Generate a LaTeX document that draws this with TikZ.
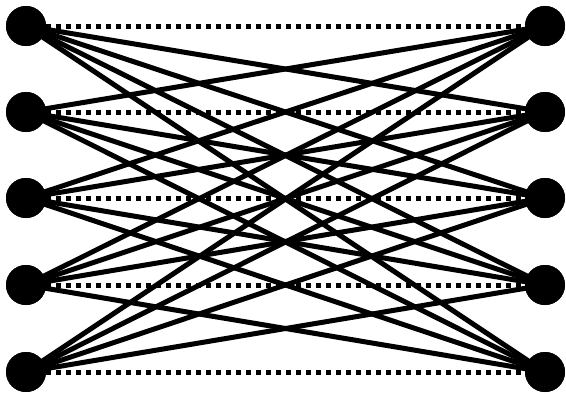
\documentclass[tikz,border=0pt]{standalone}
\begin{document}
\begin{tikzpicture}[x=1pt,y=-1pt,
  vtx/.style={circle,fill=black,minimum size=40pt,inner sep=0pt},
  edge/.style={line width=5pt},
  match/.style={line width=5pt,dash pattern=on 5pt off 5pt}]
\useasboundingbox (0,0) rectangle (566,394);
\foreach \i/\y in {1/26,2/112,3/198,4/285,5/372}{
  \node[vtx] (L\i) at (26,\y) {};
  \node[vtx] (R\i) at (545,\y) {};
}
\foreach \i in {1,...,5}{
  \draw[match] (L\i.center) -- (R\i.center);
  \foreach \j in {1,...,5}{
    \ifnum\i=\j\else
      \draw[edge] (L\i.center) -- (R\j.center);
    \fi
  }
}
\foreach \i in {1,...,5}{
  \node[vtx] at (L\i) {};
  \node[vtx] at (R\i) {};
}
\end{tikzpicture}
\end{document}
